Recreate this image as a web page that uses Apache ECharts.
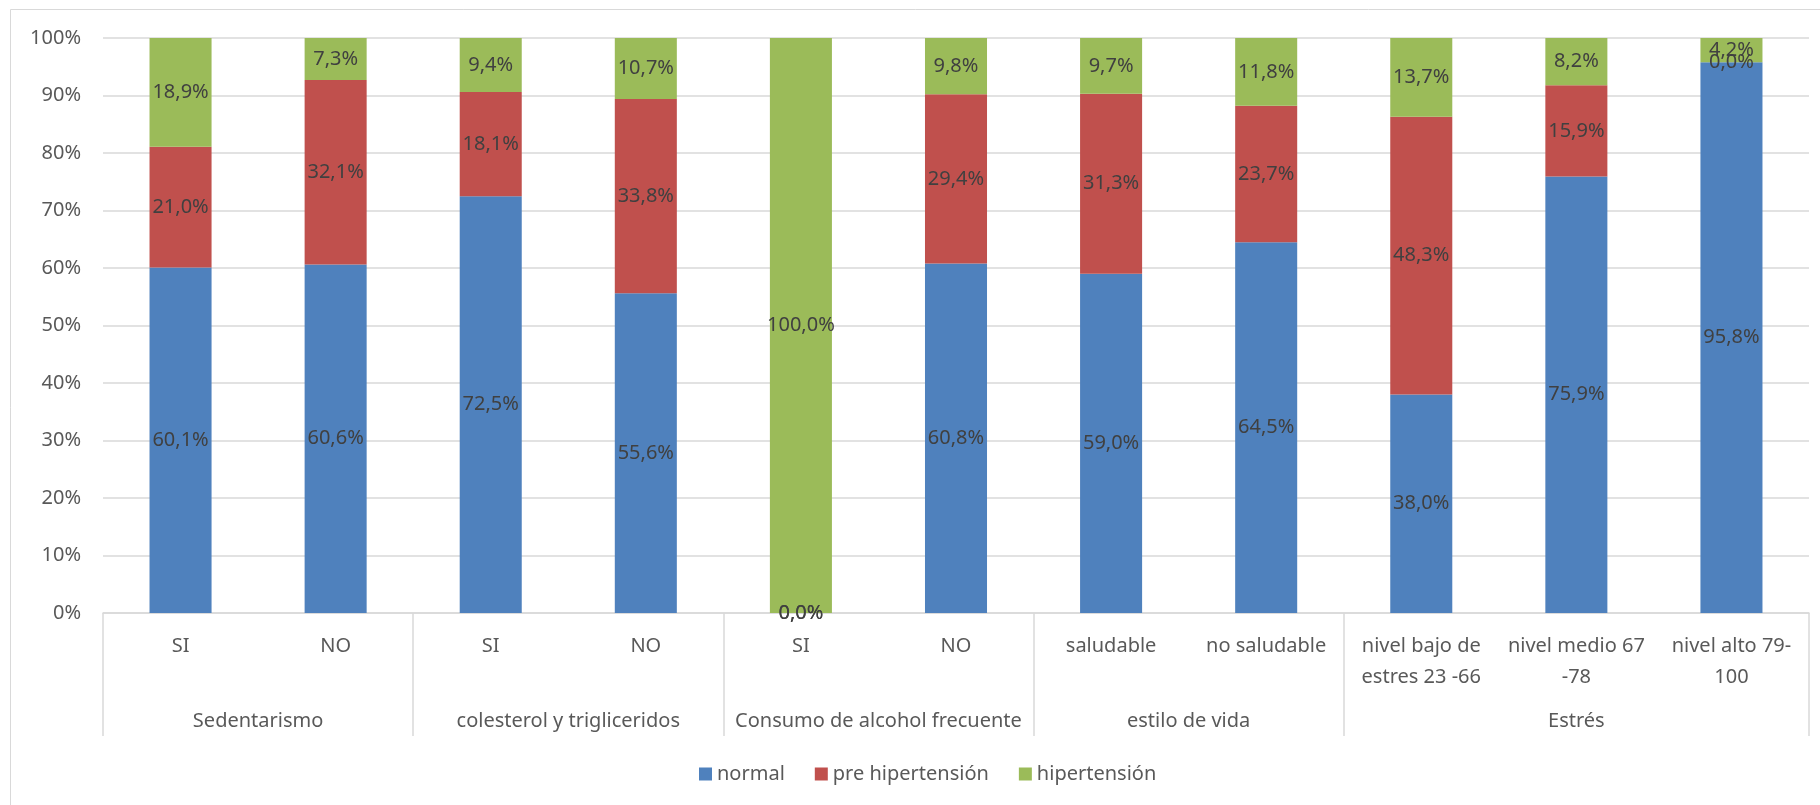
<!DOCTYPE html>
<html>
<head>
<meta charset="utf-8">
<script src="https://cdn.jsdelivr.net/npm/echarts@6/dist/echarts.min.js"></script>
<style>
html,body{margin:0;padding:0;background:#fff;}
#chart{width:1820px;height:805px;}
</style>
</head>
<body>
<div id="chart"></div>
<script>
const categories = ["SI", "NO", "SI", "NO", "SI", "NO", "saludable", "no saludable",
  "nivel bajo de\nestres 23 -66", "nivel medio 67\n-78", "nivel alto 79-\n100"];
const groups = ["Sedentarismo", "colesterol y trigliceridos", "Consumo de alcohol frecuente", "estilo de vida", "Estrés"];
const groupSizes = [2, 2, 2, 2, 3];
const seriesNames = ["normal", "pre hipertensión", "hipertensión"];
const normal = [60.1, 60.6, 72.5, 55.6, 0.0, 60.8, 59.0, 64.5, 38.0, 75.9, 95.8];
const preHipertension = [21.0, 32.1, 18.1, 33.8, 0.0, 29.4, 31.3, 23.7, 48.3, 15.9, 0.0];
const hipertension = [18.9, 7.3, 9.4, 10.7, 100.0, 9.8, 9.7, 11.8, 13.7, 8.2, 4.2];
const yTicks = [0, 10, 20, 30, 40, 50, 60, 70, 80, 90, 100];

const colors = ["#4F81BD", "#C0504D", "#9BBB59"];
const FONT = "Noto Sans";

// group axis: 2 half-slots per category, points 0..2N
const N = categories.length;
const groupData = new Array(2 * N + 1).fill("");
const boundaryIdx = [0];
let acc = 0;
groups.forEach((g, i) => {
  const start = acc;
  acc += groupSizes[i];
  groupData[start + acc] = g; // center in half-slot units = (start+acc)
  boundaryIdx.push(2 * acc);
});

const fmt = v => v.toFixed(1).replace('.', ',') + '%';

const chart = echarts.init(document.getElementById('chart'), null, {renderer: 'canvas'});
const mk = (name, data, i) => ({
  name: name,
  type: 'bar',
  stack: 'total',
  data: data,
  xAxisIndex: 0,
  barWidth: '40%',
  itemStyle: {color: colors[i]},
  label: {
    show: true,
    position: 'inside',
    color: '#404040',
    fontFamily: FONT,
    fontSize: 20,
    formatter: p => fmt(p.value)
  },
  emphasis: {disabled: true}
});

chart.setOption({
  animation: false,
  textStyle: {fontFamily: FONT},
  graphic: [{
    type: 'rect',
    shape: {x: 10.5, y: 9.5, width: 1830, height: 820},
    style: {fill: 'none', stroke: '#d9d9d9', lineWidth: 1},
    silent: true,
    z: -10
  }],
  grid: {left: 103, top: 38, width: 1706, height: 575, containLabel: false},
  legend: {
    data: seriesNames,
    left: 694,
    top: 759,
    icon: 'rect',
    itemWidth: 13,
    itemHeight: 13,
    itemGap: 30,
    textStyle: {fontFamily: FONT, fontSize: 20, color: '#595959'}
  },
  yAxis: {
    type: 'value',
    min: yTicks[0],
    max: yTicks[yTicks.length - 1],
    interval: 10,
    axisLabel: {formatter: '{value}%', color: '#595959', fontFamily: FONT, fontSize: 20, margin: 22},
    axisLine: {show: false},
    axisTick: {show: false},
    splitLine: {lineStyle: {color: '#d9d9d9', width: 1.5}}
  },
  xAxis: [{
    type: 'category',
    data: categories,
    position: 'bottom',
    axisLine: {show: true, lineStyle: {color: '#d9d9d9', width: 1.5}},
    axisTick: {show: false},
    axisLabel: {interval: 0, color: '#595959', fontFamily: FONT, fontSize: 20, lineHeight: 31, margin: 18}
  }, {
    type: 'category',
    data: groupData,
    position: 'bottom',
    boundaryGap: false,
    axisLine: {show: false},
    axisTick: {
      show: true,
      length: 123,
      interval: (idx) => boundaryIdx.indexOf(idx) >= 0,
      lineStyle: {color: '#d9d9d9', width: 1.5}
    },
    axisLabel: {interval: 0, color: '#595959', fontFamily: FONT, fontSize: 20, lineHeight: 31, margin: 93},
    splitLine: {show: false}
  }],
  series: [
    mk(seriesNames[0], normal, 0),
    mk(seriesNames[1], preHipertension, 1),
    mk(seriesNames[2], hipertension, 2)
  ]
});
</script>
</body>
</html>
